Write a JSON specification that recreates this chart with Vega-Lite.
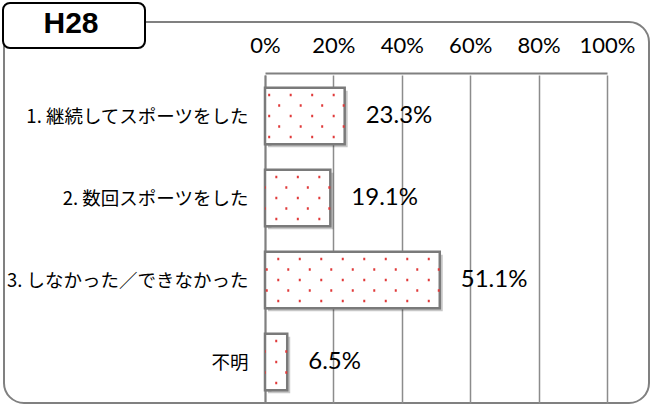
{
  "$schema": "https://vega.github.io/schema/vega-lite/v6.json",
  "width": 645,
  "height": 381,
  "autosize": "none",
  "padding": {"left": 4, "top": 22, "right": 3, "bottom": 3},
  "background": "white",
  "config": {
    "view": {"stroke": "#808080", "strokeWidth": 2, "cornerRadius": 20, "fill": "white"}
  },
  "data": {
    "values": [
      {"label": "1. 継続してスポーツをした", "value": 0.233},
      {"label": "2. 数回スポーツをした", "value": 0.191},
      {"label": "3. しなかった／できなかった", "value": 0.511},
      {"label": "不明", "value": 0.065}
    ]
  },
  "encoding": {
    "y": {
      "field": "label",
      "type": "nominal",
      "sort": null,
      "scale": {"range": [53, 381], "paddingInner": 0.31, "paddingOuter": 0.155},
      "axis": {
        "orient": "left",
        "offset": -261,
        "title": null,
        "grid": false,
        "domainColor": "#808080",
        "domainWidth": 2,
        "ticks": true,
        "tickBand": "extent",
        "tickSize": -6,
        "tickColor": "#808080",
        "tickWidth": 1.5,
        "labelPadding": 23,
        "labelLimit": 400,
        "labelFont": "Noto Sans CJK JP",
        "labelFontSize": 18.5,
        "labelColor": "black"
      }
    }
  },
  "layer": [
    {
      "mark": {"type": "bar", "fill": "#000000", "opacity": 0.22, "xOffset": 3, "x2Offset": 3, "yOffset": 3, "y2Offset": 3},
      "encoding": {
        "x": {
          "field": "value",
          "type": "quantitative",
          "scale": {"domain": [0, 1], "range": [261, 603], "nice": false},
          "axis": {
            "orient": "top",
            "offset": -51,
            "values": [0, 0.2, 0.4, 0.6, 0.8, 1],
            "format": ".0%",
            "title": null,
            "domainColor": "#808080",
            "domainWidth": 2,
            "ticks": false,
            "tickSize": 0,
            "grid": true,
            "gridColor": "#8c8c8c",
            "gridWidth": 1.5,
            "labelFlush": false,
            "labelOverlap": false,
            "labelBaseline": "alphabetic",
            "labelPadding": 21,
            "labelFont": "Lato",
            "labelFontSize": 22,
            "labelColor": "black"
          }
        },
        "x2": {"datum": 0}
      }
    },
    {
      "mark": {"type": "bar", "fill": "white", "strokeWidth": 2.5},
      "encoding": {
        "x": {"field": "value", "type": "quantitative"},
        "x2": {"datum": 0},
        "stroke": {
          "field": "value",
          "type": "quantitative",
          "scale": {"range": ["#7a7a7a", "#7a7a7a"]},
          "legend": {
            "type": "gradient",
            "direction": "horizontal",
            "orient": "none",
            "legendX": -1,
            "legendY": -19,
            "title": "H28",
            "titleFont": "Liberation Sans",
            "titleFontSize": 30,
            "titleFontWeight": "bold",
            "titleColor": "black",
            "titleAnchor": "middle",
            "titlePadding": 0,
            "gradientLength": 130,
            "gradientThickness": 2,
            "gradientOpacity": 0,
            "gradientStrokeWidth": 0,
            "labelExpr": "''",
            "labelFontSize": 1,
            "labelOpacity": 0,
            "labelOffset": 0,
            "padding": 6,
            "strokeColor": "black",
            "fillColor": "white",
            "cornerRadius": 7,
            "encode": {"legend": {"update": {"strokeWidth": {"value": 2}}}}
          }
        }
      }
    },
    {
      "mark": {"type": "rule", "color": "#e03a3a", "strokeWidth": 2.5, "strokeDash": [2, 19.5], "strokeDashOffset": 11.5, "yOffset": -21},
      "encoding": {"x": {"field": "value", "type": "quantitative"}, "x2": {"datum": 0}}
    },
    {
      "mark": {"type": "rule", "color": "#e03a3a", "strokeWidth": 2.5, "strokeDash": [2, 19.5], "strokeDashOffset": 0, "yOffset": -10.5},
      "encoding": {"x": {"field": "value", "type": "quantitative"}, "x2": {"datum": 0}}
    },
    {
      "mark": {"type": "rule", "color": "#e03a3a", "strokeWidth": 2.5, "strokeDash": [2, 19.5], "strokeDashOffset": 11.5, "yOffset": 0},
      "encoding": {"x": {"field": "value", "type": "quantitative"}, "x2": {"datum": 0}}
    },
    {
      "mark": {"type": "rule", "color": "#e03a3a", "strokeWidth": 2.5, "strokeDash": [2, 19.5], "strokeDashOffset": 0, "yOffset": 10.5},
      "encoding": {"x": {"field": "value", "type": "quantitative"}, "x2": {"datum": 0}}
    },
    {
      "mark": {"type": "rule", "color": "#e03a3a", "strokeWidth": 2.5, "strokeDash": [2, 19.5], "strokeDashOffset": 11.5, "yOffset": 21},
      "encoding": {"x": {"field": "value", "type": "quantitative"}, "x2": {"datum": 0}}
    },
    {
      "mark": {"type": "text", "align": "left", "baseline": "middle", "dx": 21, "font": "Lato", "fontSize": 24, "color": "black"},
      "encoding": {
        "x": {"field": "value", "type": "quantitative"},
        "text": {"field": "value", "type": "quantitative", "format": ".1%"}
      }
    }
  ]
}
